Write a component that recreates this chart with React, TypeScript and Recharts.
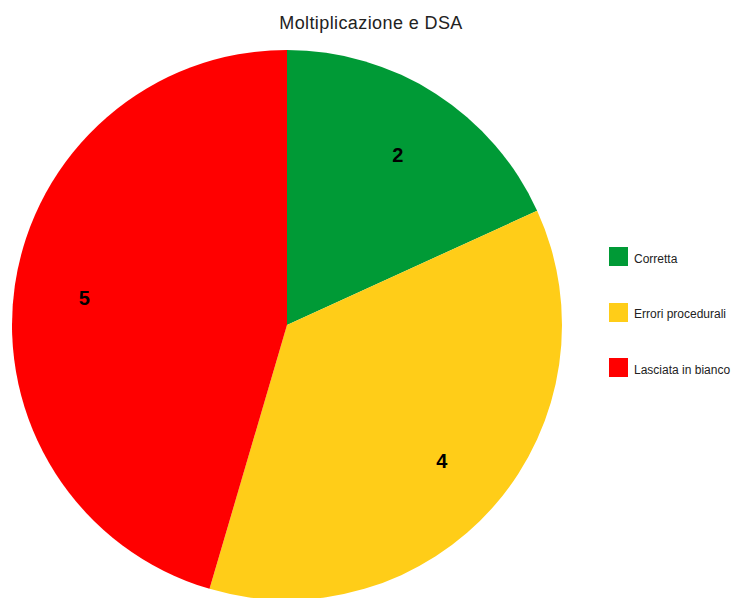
import React from 'react';
import { PieChart, Pie, Cell, Legend } from 'recharts';

const categories = ['Corretta', 'Errori procedurali', 'Lasciata in bianco'];
const counts = [2, 4, 5];
const colors = ['#009a36', '#ffcd18', '#ff0000'];

const data = categories.map((name, i) => ({ name, value: counts[i] }));

const RADIAN = Math.PI / 180;
const FONT = 'Arial, "Liberation Sans", sans-serif';

const renderLabel = (props: any) => {
  const { cx, cy, midAngle, outerRadius, value } = props;
  const r = outerRadius * 0.745;
  const x = cx + r * Math.cos(-midAngle * RADIAN);
  const y = cy + r * Math.sin(-midAngle * RADIAN) + 2;
  return (
    <text x={x} y={y} fill="#000" fontSize={20} fontWeight="bold" fontFamily={FONT}
      textAnchor="middle" dominantBaseline="central">
      {value}
    </text>
  );
};

const renderLegend = () => (
  <div style={{ fontFamily: FONT }}>
    {data.map((d, i) => (
      <div key={d.name} style={{ display: 'flex', alignItems: 'center', height: 19, marginBottom: i < data.length - 1 ? 36.5 : 0 }}>
        <div style={{ width: 19, height: 19, background: colors[i] }} />
        <span style={{ marginLeft: 6, fontSize: 12, color: '#222', position: 'relative', top: 2 }}>{d.name}</span>
      </div>
    ))}
  </div>
);

export default function App() {
  return (
    <div style={{ position: 'absolute', left: 0, top: 0, width: 731, height: 598, background: '#fff', overflow: 'hidden' }}>
      <div style={{ position: 'absolute', left: 0, width: 742, top: 13, lineHeight: '20px', textAlign: 'center', fontFamily: FONT, fontSize: 18, letterSpacing: 0.4, color: '#222' }}>
        Moltiplicazione e DSA
      </div>
      <PieChart width={731} height={598} margin={{ top: 0, right: 0, bottom: 0, left: 0 }}>
        <Pie
          data={data}
          dataKey="value"
          nameKey="name"
          cx={287}
          cy={325}
          outerRadius={275}
          startAngle={90}
          endAngle={-270}
          stroke="none"
          label={renderLabel}
          labelLine={false}
          isAnimationActive={false}
        >
          {data.map((d, i) => (
            <Cell key={d.name} fill={colors[i]} />
          ))}
        </Pie>
        <Legend content={renderLegend} wrapperStyle={{ position: 'absolute', left: 609, top: 247, width: 122 }} />
      </PieChart>
    </div>
  );
}
